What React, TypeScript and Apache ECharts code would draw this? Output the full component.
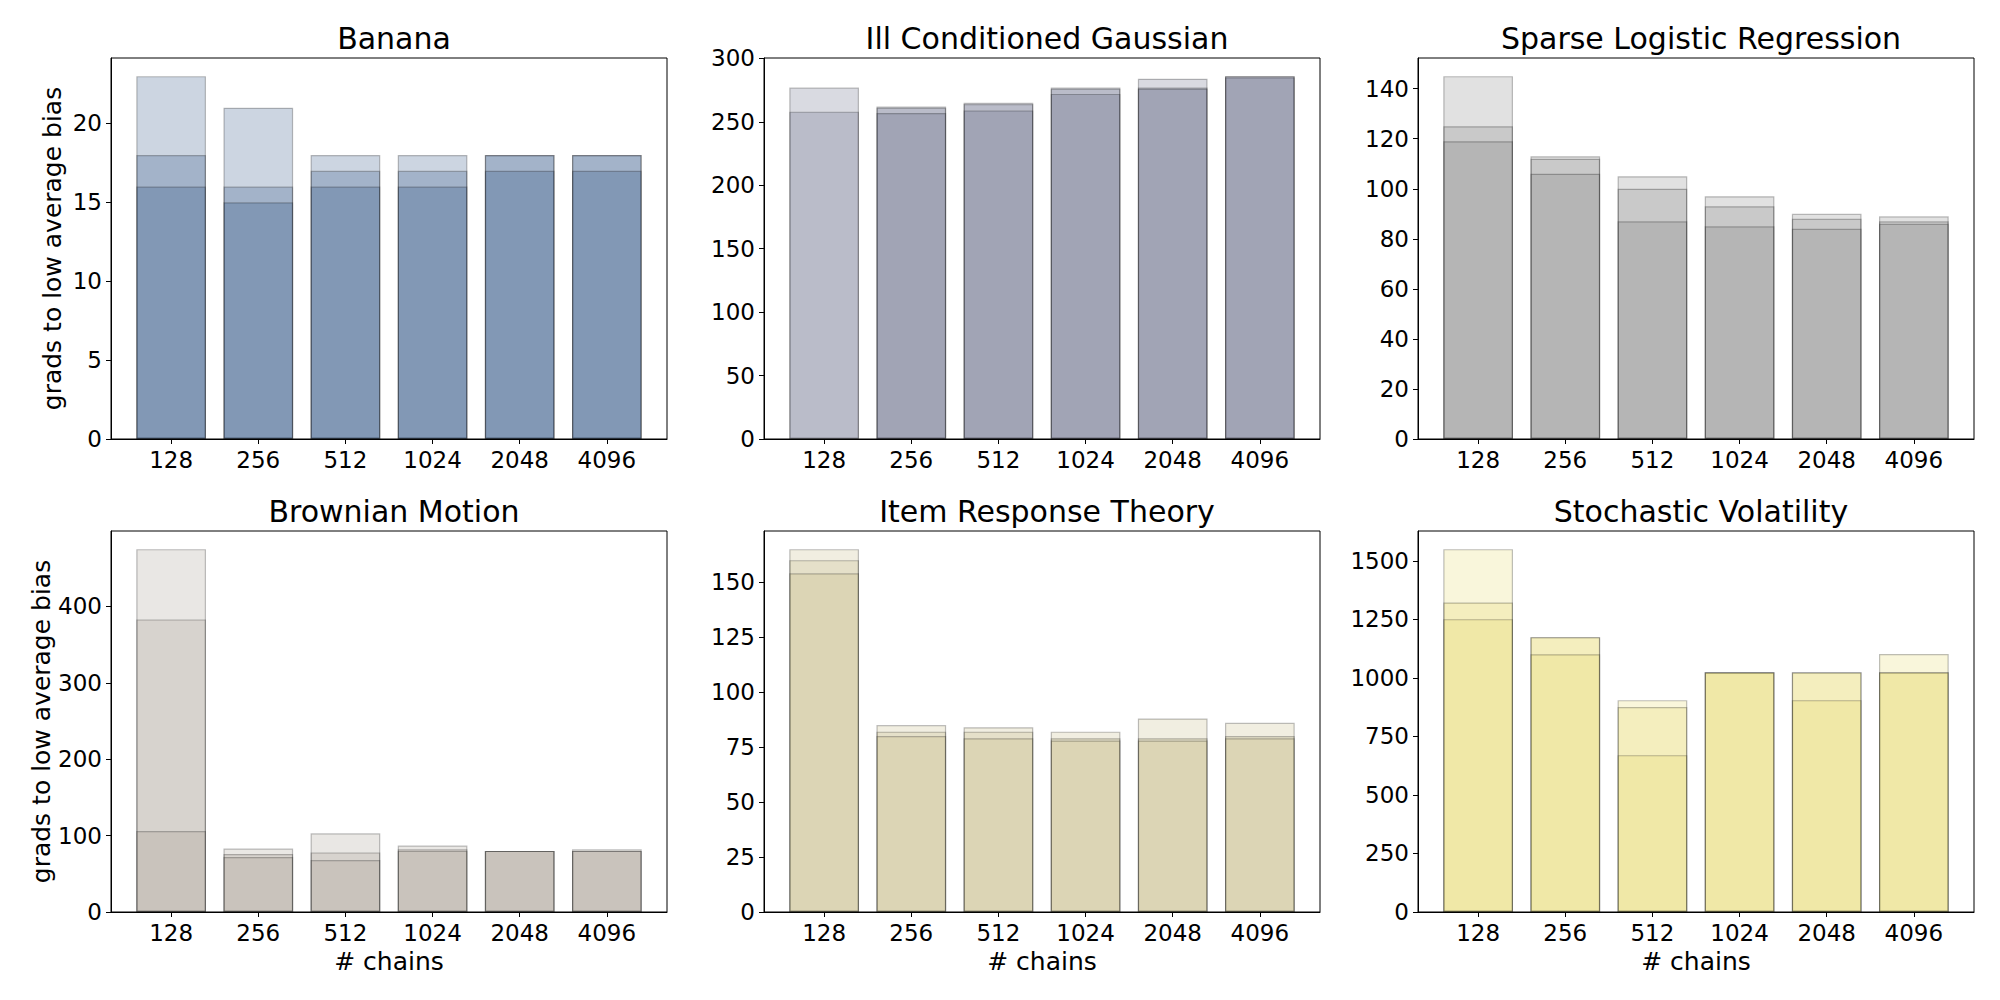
import React, { useEffect, useRef } from "react";
import * as echarts from "echarts";

// ---------- data ----------
const chains = ["128", "256", "512", "1024", "2048", "4096"];

const titles = [
  "Banana",
  "Ill Conditioned Gaussian",
  "Sparse Logistic Regression",
  "Brownian Motion",
  "Item Response Theory",
  "Stochastic Volatility",
];

// three overlaid runs per panel (highest, middle, lowest)
const bananaA = [23, 21, 18, 18, 18, 18];
const bananaB = [18, 16, 17, 17, 18, 18];
const bananaC = [16, 15, 16, 16, 17, 17];

const icgA = [277, 262, 265, 277, 284, 286];
const icgB = [258, 261, 264, 276, 277, 286];
const icgC = [null, 257, 259, 272, 276, 285];

const sparseA = [145, 113, 105, 97, 90, 89];
const sparseB = [125, 112, 100, 93, 88, 87];
const sparseC = [119, 106, 87, 85, 84, 86];

const brownA = [475, 83, 103, 87, 80, 82];
const brownB = [383, 76, 78, 82, 80, 80];
const brownC = [106, 72, 68, 80, 80, 80];

const irtA = [165, 85, 84, 82, 88, 86];
const irtB = [160, 82, 82, 79, 79, 80];
const irtC = [154, 80, 79, 78, 78, 79];

const svA = [1550, 1174, 905, 1024, 1024, 1102];
const svB = [1322, 1174, 876, 1024, 1024, 1024];
const svC = [1251, 1101, 670, 1024, 905, 1024];

const yTicks = [
  [0, 5, 10, 15, 20],
  [0, 50, 100, 150, 200, 250, 300],
  [0, 20, 40, 60, 80, 100, 120, 140],
  [0, 100, 200, 300, 400],
  [0, 25, 50, 75, 100, 125, 150],
  [0, 250, 500, 750, 1000, 1250, 1500],
];

const panelData = [
  [bananaA, bananaB, bananaC],
  [icgA, icgB, icgC],
  [sparseA, sparseB, sparseC],
  [brownA, brownB, brownC],
  [irtA, irtB, irtC],
  [svA, svB, svC],
];

// ---------- styles ----------
const baseColors = [
  [0, 44, 107],
  [65, 71, 104],
  [105, 105, 105],
  [144, 137, 120],
  [184, 172, 104],
  [226, 208, 73],
];
const ALPHA = 0.2;

const colLeft = [111, 764, 1418];
const rowTop = [58, 531];
const gridW = 556;
const gridH = 381;
const X_MIN = -0.69;
const X_MAX = 5.69;
const FONT = "DejaVu Sans";

export default function App() {
  const ref = useRef<HTMLDivElement>(null);

  useEffect(() => {
    if (!ref.current) return;
    const chart = echarts.init(ref.current, undefined, { renderer: "svg" });

    const grids: any[] = [];
    const xAxes: any[] = [];
    const yAxes: any[] = [];
    const series: any[] = [];
    const title: any[] = [];
    const barW = (0.8 / (X_MAX - X_MIN)) * gridW;

    panelData.forEach((runs, p) => {
      const col = p % 3;
      const row = Math.floor(p / 3);
      const left = colLeft[col];
      const top = rowTop[row];
      grids.push({
        left,
        top,
        width: gridW,
        height: gridH,
        show: true,
        borderColor: "#000",
        borderWidth: 1,
        backgroundColor: "transparent",
        containLabel: false,
      });
      title.push({
        text: titles[p],
        left: left + gridW / 2,
        top: top - 40,
        textAlign: "center",
        textStyle: { fontFamily: FONT, fontSize: 30, fontWeight: "normal", color: "#000" },
      });
      let maxV = 0;
      runs.forEach((r) => r.forEach((v) => { if (v != null && v > maxV) maxV = v; }));
      xAxes.push({
        type: "value",
        gridIndex: p,
        min: X_MIN,
        max: X_MAX,
        splitLine: { show: false },
        axisLine: { show: true, onZero: false, lineStyle: { color: "#000", width: 1 } },
        axisTick: { show: true, length: 5, lineStyle: { color: "#000" }, customValues: [0, 1, 2, 3, 4, 5] },
        axisLabel: {
          customValues: [0, 1, 2, 3, 4, 5],
          formatter: (v: number) => chains[Math.round(v)],
          fontFamily: FONT,
          fontSize: 23,
          color: "#000",
          margin: 9,
        },
        name: row === 1 ? "# chains" : "",
        nameLocation: "middle",
        nameGap: 37,
        nameTextStyle: { fontFamily: FONT, fontSize: 25, color: "#000" },
      });
      yAxes.push({
        type: "value",
        gridIndex: p,
        min: 0,
        max: maxV * 1.05,
        splitLine: { show: false },
        axisLine: { show: true, onZero: false, lineStyle: { color: "#000", width: 1 } },
        axisTick: { show: true, length: 5, lineStyle: { color: "#000" }, customValues: yTicks[p] },
        axisLabel: {
          customValues: yTicks[p],
          formatter: (v: number) => String(v),
          fontFamily: FONT,
          fontSize: 23,
          color: "#000",
          margin: 9,
        },
        name: col === 0 ? "grads to low average bias" : "",
        nameLocation: "middle",
        nameGap: 46,
        nameRotate: 90,
        nameTextStyle: { fontFamily: FONT, fontSize: 25, color: "#000" },
      });
      const [r, g, b] = baseColors[p];
      runs.forEach((vals, k) => {
        const data: any[] = [];
        vals.forEach((v, i) => { if (v != null) data.push([i, v]); });
        series.push({
          type: "bar",
          name: `${titles[p]}-${k}`,
          xAxisIndex: p,
          yAxisIndex: p,
          barWidth: barW,
          barGap: "-100%",
          data,
          itemStyle: {
            color: `rgba(${r},${g},${b},${ALPHA})`,
            borderColor: "rgba(0,0,0,0.25)",
            borderWidth: 1.2,
          },
          emphasis: { disabled: true },
        });
      });
    });

    chart.setOption({
      animation: false,
      backgroundColor: "#fff",
      title,
      grid: grids,
      xAxis: xAxes,
      yAxis: yAxes,
      series,
    });
    return () => chart.dispose();
  }, []);

  return (
    <div
      ref={ref}
      style={{ position: "absolute", left: 0, top: 0, width: 2000, height: 1000 }}
    />
  );
}
